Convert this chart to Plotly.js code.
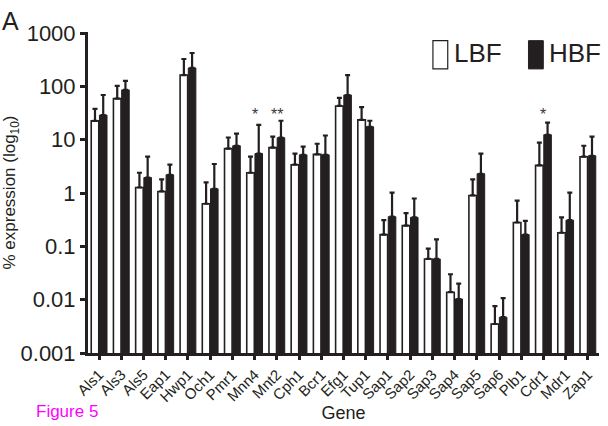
<!DOCTYPE html>
<html><head><meta charset="utf-8">
<script src="https://cdn.plot.ly/plotly-3.0.1.min.js"></script>
<style>body{margin:0;background:#fff}#chart{width:608px;height:426px}</style>
</head><body><div id="chart"></div>
<script>
const genes = ["Als1","Als3","Als5","Eap1","Hwp1","Och1","Pmr1","Mnn4","Mnt2","Cph1","Bcr1","Efg1","Tup1","Sap1","Sap2","Sap3","Sap4","Sap5","Sap6","Plb1","Cdr1","Mdr1","Zap1"];
const lbf = [22.6,59,1.27,1.07,163,0.63,6.8,2.4,7.1,3.4,5.3,43,23.5,0.166,0.245,0.058,0.0138,0.9,0.0035,0.28,3.3,0.18,4.8];
const lbfErrTop = [38,102,2.4,1.8,326,1.58,11,4.8,11.4,5.5,8.4,61,41,0.31,0.42,0.091,0.030,1.8,0.0076,0.72,8.8,0.35,7.7];
const hbf = [29,86,1.95,2.2,222,1.2,7.7,5.5,10.9,5.2,5.2,69,17.5,0.36,0.35,0.058,0.0103,2.3,0.0047,0.166,12.4,0.31,5.0];
const hbfErrTop = [69,127,4.8,3.4,423,3.5,13,19,22.7,7.4,12,163,22.7,1.02,0.79,0.135,0.020,5.5,0.0107,0.30,21,1.02,11.4];
const sigGenes = ["Mnn4","Mnt2","Cdr1"];
const sigMarks = ["*","**","*"];
const sigLevel = [30,30,30];
const yTickVals = [0.001,0.01,0.1,1,10,100,1000];
const yTickText = ["0.001","0.01","0.1","1","10","100","1000"];

const ink = "#231f20";
const font = "Liberation Sans, Arial, sans-serif";
function up(v, t){ return t.map((x,i)=>x - v[i]); }

const traces = [
  {type:"bar", name:"LBF", x:genes, y:lbf,
   marker:{color:"#ffffff", line:{color:ink, width:1.6}},
   error_y:{type:"data", symmetric:false, array:up(lbf,lbfErrTop), arrayminus:lbf.map(()=>0), color:ink, thickness:2.2, width:2.5}},
  {type:"bar", name:"HBF", x:genes, y:hbf,
   marker:{color:ink, line:{color:ink, width:1}},
   error_y:{type:"data", symmetric:false, array:up(hbf,hbfErrTop), arrayminus:hbf.map(()=>0), color:ink, thickness:2.2, width:2.5}}
];

const annotations = sigGenes.map((g,i)=>({x:g, y:Math.log10(sigLevel[i]), xref:"x", yref:"y", text:sigMarks[i], showarrow:false, font:{family:font, size:16, color:"#3a3a3a"}, yanchor:"middle"}));
annotations.push(
  {xref:"paper", yref:"paper", x:-0.172, y:1.085, text:"A", showarrow:false, xanchor:"left", yanchor:"top", font:{family:font, size:25, color:ink}},
  {xref:"paper", yref:"paper", x:0.712, y:0.935, text:"LBF", showarrow:false, xanchor:"left", yanchor:"middle", font:{family:font, size:26, color:ink}},
  {xref:"paper", yref:"paper", x:0.899, y:0.935, text:"HBF", showarrow:false, xanchor:"left", yanchor:"middle", font:{family:font, size:26, color:ink}},
  {xref:"paper", yref:"paper", x:-0.105, y:-0.145, text:"Figure 5", showarrow:false, xanchor:"left", yanchor:"top", font:{family:font, size:17, color:"#ff00ff"}}
);

const shapes = [
  {type:"rect", xref:"paper", yref:"paper", x0:0.675, x1:0.704, y0:0.885, y1:0.973, fillcolor:"#ffffff", line:{color:ink, width:1.2}},
  {type:"rect", xref:"paper", yref:"paper", x0:0.862, x1:0.891, y0:0.885, y1:0.973, fillcolor:ink, line:{color:ink, width:1}}
];

const layout = {
  width:608, height:426,
  margin:{l:88, r:9, t:32, b:73},
  paper_bgcolor:"#ffffff", plot_bgcolor:"#ffffff",
  barmode:"group", bargap:0.26, bargroupgap:0.08,
  showlegend:false,
  font:{family:font, color:ink},
  xaxis:{
    tickangle:-45, tickfont:{family:font, size:15, color:ink},
    ticks:"outside", ticklen:4, tickwidth:3, tickcolor:ink,
    showline:true, linecolor:ink, linewidth:3, showgrid:false, zeroline:false,
    title:{text:"Gene", font:{family:font, size:18, color:ink}, standoff:2}
  },
  yaxis:{
    type:"log", range:[-3,3.02],
    tickvals:yTickVals, ticktext:yTickText,
    tickfont:{family:font, size:22, color:ink},
    ticks:"outside", ticklen:5, tickwidth:3, tickcolor:ink,
    showline:true, linecolor:ink, linewidth:3, showgrid:false, zeroline:false,
    title:{text:"% expression (log<sub>10</sub>)", font:{family:font, size:17, color:ink}, standoff:4}
  },
  annotations:annotations,
  shapes:shapes
};

Plotly.newPlot("chart", traces, layout, {displayModeBar:false, staticPlot:true});
</script>
</body></html>
